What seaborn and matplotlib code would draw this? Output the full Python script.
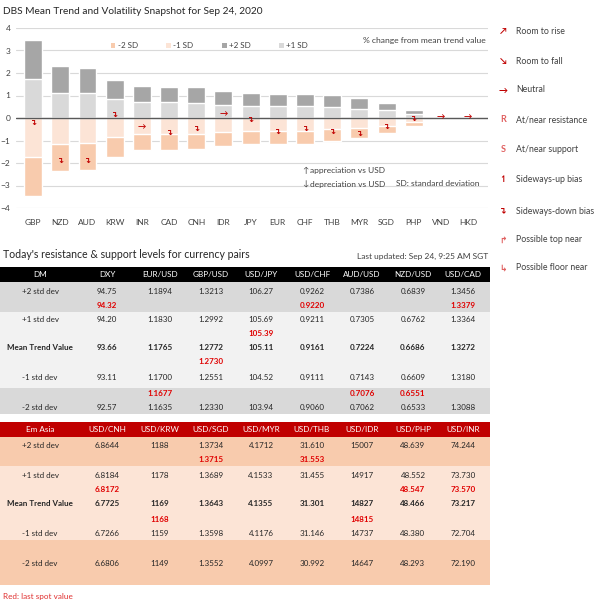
import matplotlib
matplotlib.use("Agg")
import matplotlib.pyplot as plt
from matplotlib.patches import Patch, Rectangle
import pandas as pd
import seaborn as sns

# chart data: % change from mean trend value
currencies = ["GBP", "NZD", "AUD", "KRW", "INR", "CAD", "CNH", "IDR", "JPY",
              "EUR", "CHF", "THB", "MYR", "SGD", "PHP", "VND", "HKD"]
plus2 = [3.45, 2.29, 2.23, 1.68, 1.43, 1.37, 1.37, 1.22, 1.11, 1.08, 1.08, 1.01, 0.88, 0.68, 0.34, 0.03, 0.03]
plus1 = [1.74, 1.13, 1.13, 0.83, 0.71, 0.71, 0.67, 0.56, 0.53, 0.52, 0.52, 0.49, 0.42, 0.34, 0.18, 0.015, 0.015]
minus1 = [-1.72, -1.16, -1.13, -0.86, -0.71, -0.73, -0.71, -0.64, -0.58, -0.58, -0.58, -0.50, -0.46, -0.34, -0.19, -0.015, -0.015]
minus2 = [-3.48, -2.35, -2.29, -1.72, -1.43, -1.43, -1.38, -1.25, -1.16, -1.16, -1.16, -1.04, -0.91, -0.68, -0.37, -0.03, -0.03]
spot = [-0.24, -1.92, -1.92, 0.13, -0.40, -0.70, -0.52, 0.18, -0.13, -0.64, -0.52, -0.65, -0.74, -0.40, -0.06, 0.07, 0.07]
signal = ["down", "down", "down", "down", "neutral", "down", "down", "neutral", "down",
          "down", "down", "down", "down", "down", "down", "neutral", "neutral"]

legend_labels = ["Room to rise", "Room to fall", "Neutral", "At/near resistance", "At/near support",
                 "Sideways-up bias", "Sideways-down bias", "Possible top near", "Possible floor near"]
legend_symbols = ["↗", "↘", "→", "R", "S", "↿", "↴", "↱", "↳"]

level_labels = ["+2 std dev", "+1 std dev", "Mean Trend Value", "-1 std dev", "-2 std dev"]

dm_pairs = ["DXY", "EUR/USD", "GBP/USD", "USD/JPY", "USD/CHF", "AUD/USD", "NZD/USD", "USD/CAD"]
dm_plus2 = ["94.75", "1.1894", "1.3213", "106.27", "0.9262", "0.7386", "0.6839", "1.3456"]
dm_plus1 = ["94.20", "1.1830", "1.2992", "105.69", "0.9211", "0.7305", "0.6762", "1.3364"]
dm_mean = ["93.66", "1.1765", "1.2772", "105.11", "0.9161", "0.7224", "0.6686", "1.3272"]
dm_minus1 = ["93.11", "1.1700", "1.2551", "104.52", "0.9111", "0.7143", "0.6609", "1.3180"]
dm_minus2 = ["92.57", "1.1635", "1.2330", "103.94", "0.9060", "0.7062", "0.6533", "1.3088"]
dm_spot = ["94.32", "1.1677", "1.2730", "105.39", "0.9220", "0.7076", "0.6551", "1.3379"]
dm_spot_slot = [0, 3, 2, 1, 0, 3, 3, 0]

em_pairs = ["USD/CNH", "USD/KRW", "USD/SGD", "USD/MYR", "USD/THB", "USD/IDR", "USD/PHP", "USD/INR"]
em_plus2 = ["6.8644", "1188", "1.3734", "4.1712", "31.610", "15007", "48.639", "74.244"]
em_plus1 = ["6.8184", "1178", "1.3689", "4.1533", "31.455", "14917", "48.552", "73.730"]
em_mean = ["6.7725", "1169", "1.3643", "4.1355", "31.301", "14827", "48.466", "73.217"]
em_minus1 = ["6.7266", "1159", "1.3598", "4.1176", "31.146", "14737", "48.380", "72.704"]
em_minus2 = ["6.6806", "1149", "1.3552", "4.0997", "30.992", "14647", "48.293", "72.190"]
em_spot = ["6.8172", "1168", "1.3715", None, "31.553", "14815", "48.547", "73.570"]
em_spot_slot = [1, 2, 0, None, 0, 2, 1, 1]

RED = "#c00000"
TXT = "#404040"
COL_X = [40, 107, 160, 211, 261, 312, 362, 413, 463]
TABLE_W = 490

sns.set_style("white")
plt.rcParams["font.family"] = ["Lato", "DejaVu Sans"]

fig = plt.figure(figsize=(6.05, 6.05), dpi=100)

# ---- bar chart ----
ax = fig.add_axes([16 / 605, 1 - 208 / 605, 472 / 605, 180 / 605])
df = pd.DataFrame({"ccy": currencies, "plus2": plus2, "plus1": plus1,
                   "minus1": minus1, "minus2": minus2})
for col, color in [("plus2", "#a6a6a6"), ("plus1", "#d9d9d9"),
                   ("minus2", "#f8cbad"), ("minus1", "#fce4d6")]:
    sns.barplot(data=df, x="ccy", y=col, order=currencies, color=color,
                saturation=1, width=0.66, errorbar=None, ax=ax, zorder=2)

ax.axhline(0, color="#595959", linewidth=1.0, zorder=3)
ax.set_ylim(-4, 4)
ax.set_xlim(-0.63, len(currencies) - 0.27)
ax.set_yticks(range(-4, 5))
ax.yaxis.grid(True, color="#d9d9d9", linewidth=0.8)
ax.set_axisbelow(True)
ax.set_xlabel("")
ax.set_ylabel("")
sns.despine(ax=ax, left=True, bottom=True)
ax.tick_params(axis="x", length=0, pad=8, labelsize=6, labelcolor=TXT)
ax.tick_params(axis="y", length=0, pad=4, labelsize=6, labelcolor=TXT)

for i, (val, sig) in enumerate(zip(spot, signal)):
    sym = "↴" if sig == "down" else "→"
    ax.text(i, val, sym, ha="center", va="center", color=RED, fontsize=6,
            fontweight="bold", zorder=4)

handles = [Patch(facecolor=c, edgecolor="none") for c in ["#f8cbad", "#fce4d6", "#a6a6a6", "#d9d9d9"]]
ax.legend(handles, ["-2 SD", "-1 SD", "+2 SD", "+1 SD"], ncol=4, frameon=False,
          loc="center left", bbox_to_anchor=(0.185, 0.9), fontsize=5.8,
          handlelength=0.6, handleheight=0.6, handletextpad=0.3,
          columnspacing=3.5, labelcolor=TXT)
ax.text(0.996, 0.928, "% change from mean trend value", transform=ax.transAxes,
        ha="right", va="center", fontsize=6.1, color=TXT)

# ---- overlay in pixel coordinates for texts and tables ----
ov = fig.add_axes([0, 0, 1, 1])
ov.set_xlim(0, 605)
ov.set_ylim(605, 0)
ov.axis("off")
ov.patch.set_visible(False)

ov.text(3, 11, "DBS Mean Trend and Volatility Snapshot for Sep 24, 2020",
        ha="left", va="center", fontsize=7.3, color="#262626")
ov.text(305, 171, "↑", ha="center", va="center", fontsize=6, color=TXT)
ov.text(310, 171, "appreciation vs USD", ha="left", va="center", fontsize=6.0, color=TXT)
ov.text(305, 184, "↓", ha="center", va="center", fontsize=6, color=TXT)
ov.text(310, 184, "depreciation vs USD", ha="left", va="center", fontsize=6.0, color=TXT)
ov.text(396, 184, "SD: standard deviation", ha="left", va="center", fontsize=6.0, color=TXT)

legend_y = [31, 61, 90, 120, 150, 180, 211, 240, 268]
sym_colors = [RED, RED, RED, "#e06060", "#e06060", RED, RED, "#e06060", "#e06060"]
for y, sym, lab, c in zip(legend_y, legend_symbols, legend_labels, sym_colors):
    ov.text(503, y, sym, ha="center", va="center", fontsize=6.5, color=c, fontweight="bold")
    ov.text(516, y, lab, ha="left", va="center", fontsize=6.3, color=TXT)

ov.text(3, 255, "Today's resistance & support levels for currency pairs",
        ha="left", va="center", fontsize=7.6, color="#262626")
ov.text(488, 256, "Last updated: Sep 24, 9:25 AM SGT",
        ha="right", va="center", fontsize=6.0, color=TXT)


def draw_table(title, pairs, levels, spots, slots, header_color, header_box,
               bands, level_y, slot_y):
    ov.add_patch(Rectangle((0, header_box[0]), TABLE_W, header_box[1] - header_box[0],
                           facecolor=header_color, edgecolor="none"))
    for top, bottom, color in bands:
        ov.add_patch(Rectangle((0, top), TABLE_W, bottom - top,
                               facecolor=color, edgecolor="none"))
    hy = (header_box[0] + header_box[1]) / 2
    for x, name in zip(COL_X, [title] + pairs):
        ov.text(x, hy, name, ha="center", va="center", fontsize=5.9, color="white")
    for row, (lab, vals, y) in enumerate(zip(level_labels, levels, level_y)):
        weight = "bold" if row == 2 else "normal"
        ov.text(COL_X[0], y, lab, ha="center", va="center", fontsize=5.8,
                color="#262626", fontweight=weight)
        for x, v in zip(COL_X[1:], vals):
            ov.text(x, y, v, ha="center", va="center", fontsize=5.8,
                    color="#262626", fontweight=weight)
    for x, v, s in zip(COL_X[1:], spots, slots):
        if v is None:
            continue
        ov.text(x, slot_y[s], v, ha="center", va="center", fontsize=5.8,
                color="#e00000", fontweight="bold")


draw_table("DM", dm_pairs, [dm_plus2, dm_plus1, dm_mean, dm_minus1, dm_minus2],
           dm_spot, dm_spot_slot, "#000000", (267, 282),
           [(282, 312, "#d9d9d9"), (312, 388, "#f2f2f2"), (388, 414, "#d9d9d9")],
           [291, 320, 348, 377, 407], [305, 334, 362, 393])

draw_table("Em Asia", em_pairs, [em_plus2, em_plus1, em_mean, em_minus1, em_minus2],
           em_spot, em_spot_slot, "#c00000", (422, 437),
           [(437, 466, "#f8cbad"), (466, 540, "#fce4d6"), (540, 585, "#f8cbad")],
           [445, 475, 504, 533, 563], [460, 489, 519, 548])

ov.text(3, 597, "Red: last spot value", ha="left", va="center", fontsize=5.9, color="#e03030")

fig.savefig("out.png", dpi=100)
plt.close(fig)
